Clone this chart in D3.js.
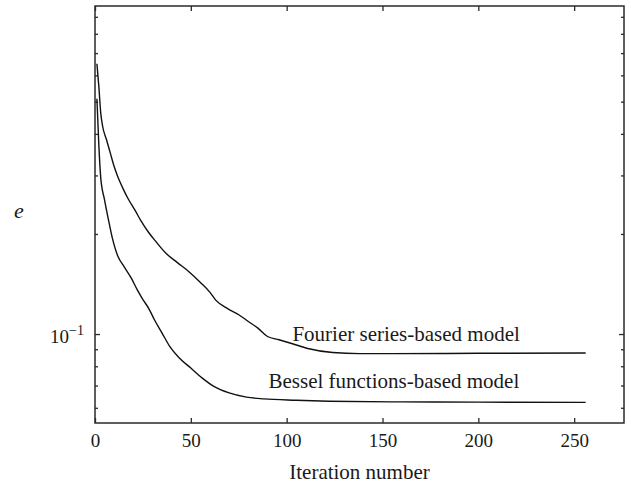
<!DOCTYPE html>
<html>
<head>
<meta charset="utf-8">
<script src="https://cdn.jsdelivr.net/npm/d3@7"></script>
<style>
  body { margin: 0; background: #fff; }
  svg text { font-family: "Liberation Serif", "Times New Roman", serif; fill: #1a1a1a; }
</style>
</head>
<body>
<svg id="chart" width="631" height="484"></svg>
<script>
// Convergence of the error e over the iterations for the two models
const fourierIter = [1, 2, 3, 4, 6, 8, 10, 12, 15, 17, 21, 24, 28, 32, 37, 43, 49, 55, 60, 63, 69, 75, 80, 85, 90, 96, 103, 111, 124, 138, 155, 200, 256];
const fourierErr  = [0.650, 0.556, 0.462, 0.421, 0.384, 0.350, 0.319, 0.296, 0.271, 0.257, 0.235, 0.219, 0.202, 0.189, 0.175, 0.164, 0.154, 0.143, 0.1335, 0.1265, 0.1195, 0.1143, 0.1091, 0.1042, 0.0983, 0.0961, 0.0935, 0.0905, 0.0880, 0.0873, 0.0873, 0.0875, 0.0877];

const besselIter = [1, 2, 3, 5, 7, 9, 12, 15, 19, 22, 25, 28, 31, 35, 39, 44, 50, 56, 62, 70, 79, 88, 105, 122, 160, 200, 256];
const besselErr  = [0.510, 0.370, 0.295, 0.253, 0.221, 0.195, 0.171, 0.160, 0.147, 0.136, 0.127, 0.1195, 0.1104, 0.1007, 0.0918, 0.0847, 0.0790, 0.0737, 0.0696, 0.0665, 0.0646, 0.0638, 0.0632, 0.0628, 0.0625, 0.0624, 0.0623];

const xTicks = [0, 50, 100, 150, 200, 250];
const yMajorTicks = [0.1];
const yMinorTicks = [0.06, 0.07, 0.08, 0.09, 0.2, 0.3, 0.4, 0.5, 0.6, 0.7, 0.8, 0.9];
const seriesLabels = ["Fourier series-based model", "Bessel functions-based model"];
const xTitle = "Iteration number";
const yTitle = "e";

const W = 631, H = 484;
const margin = { left: 95, right: 7, top: 6, bottom: 61 };
const iw = W - margin.left - margin.right;
const ih = H - margin.top - margin.bottom;

const svg = d3.select("#chart");
const g = svg.append("g").attr("transform", `translate(${margin.left},${margin.top})`);

const x = d3.scaleLinear().domain([0, 276]).range([0, iw]);
const y = d3.scaleLog().domain([0.054, 0.97]).range([ih, 0]);

const axisColor = "#2a2a2a";

// Bottom axis with inward ticks and labels
const bottom = g.append("g").attr("transform", `translate(0,${ih})`)
  .call(d3.axisBottom(x).tickValues(xTicks).tickSizeInner(-5).tickSizeOuter(0).tickPadding(11).tickFormat(d3.format("d")));
bottom.selectAll("text").attr("font-size", 19);

// Top mirrored ticks
g.append("g")
  .call(d3.axisTop(x).tickValues(xTicks).tickSizeInner(-5).tickSizeOuter(0).tickFormat(""));

// Left axis: major tick with label, minor ticks shorter
const left = g.append("g")
  .call(d3.axisLeft(y).tickValues(yMajorTicks).tickSizeInner(-5).tickSizeOuter(0).tickPadding(11).tickFormat(""));
left.selectAll(".tick text").each(function () {
  const t = d3.select(this).attr("font-size", 19).attr("dy", "0.42em");
  t.append("tspan").text("10");
  t.append("tspan").attr("dy", "-0.55em").attr("font-size", 14).text("\u22121");
});
g.append("g")
  .call(d3.axisLeft(y).tickValues(yMinorTicks).tickSizeInner(-3).tickSizeOuter(0).tickFormat(""));

// Right mirrored ticks
g.append("g").attr("transform", `translate(${iw},0)`)
  .call(d3.axisRight(y).tickValues(yMajorTicks).tickSizeInner(-5).tickSizeOuter(0).tickFormat(""));
g.append("g").attr("transform", `translate(${iw},0)`)
  .call(d3.axisRight(y).tickValues(yMinorTicks).tickSizeInner(-3).tickSizeOuter(0).tickFormat(""));

g.selectAll(".domain").remove();
g.selectAll(".tick line").attr("stroke", axisColor).attr("stroke-width", 1.3);

// Frame
g.append("rect").attr("x", 0).attr("y", 0).attr("width", iw).attr("height", ih)
  .attr("fill", "none").attr("stroke", axisColor).attr("stroke-width", 1.5);

// Curves
const line = d3.line().curve(d3.curveMonotoneX).x(d => x(d[0])).y(d => y(d[1]));
const series = [
  d3.zip(fourierIter, fourierErr),
  d3.zip(besselIter, besselErr)
];
g.selectAll("path.curve").data(series).join("path")
  .attr("class", "curve")
  .attr("d", line)
  .attr("fill", "none")
  .attr("stroke", "#111")
  .attr("stroke-width", 1.4)
  .attr("stroke-linejoin", "round");

// Curve labels
g.append("text").attr("x", x(103)).attr("y", y(0.0955)).attr("font-size", 21).text(seriesLabels[0]);
g.append("text").attr("x", x(90.5)).attr("y", y(0.0688)).attr("font-size", 21).text(seriesLabels[1]);

// Axis titles
svg.append("text").attr("x", margin.left + iw / 2).attr("y", 479).attr("text-anchor", "middle")
  .attr("font-size", 21).text(xTitle);
svg.append("text").attr("x", 19).attr("y", 218).attr("text-anchor", "middle")
  .attr("font-size", 22).attr("font-style", "italic").text(yTitle);
</script>
</body>
</html>
